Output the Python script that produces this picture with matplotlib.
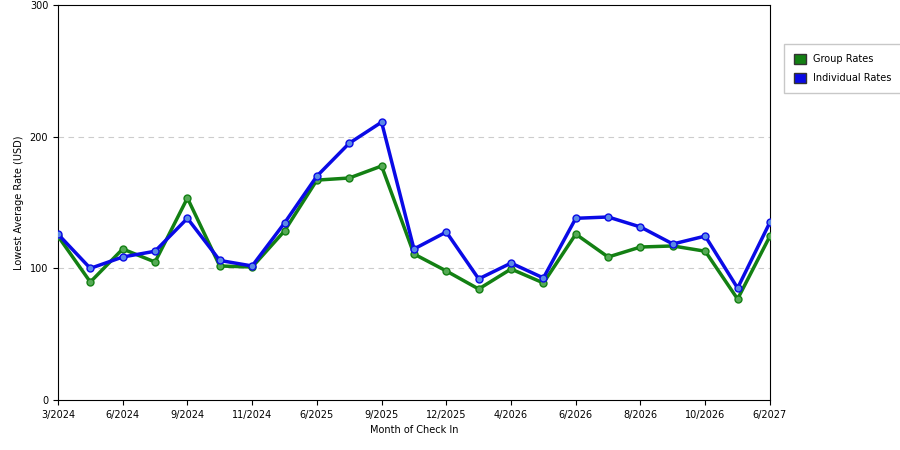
import matplotlib
matplotlib.use("Agg")
import matplotlib.pyplot as plt
from matplotlib.patches import Patch

tick_labels = ["3/2024","6/2024","9/2024","11/2024","6/2025","9/2025","12/2025","4/2026","6/2026","8/2026","10/2026","6/2027"]
group = [124.5,89.6,114.7,104.8,153.4,101.8,101,128.4,167,168.6,177.7,110.9,98,84.3,99.5,88.9,126,108.6,116.2,117,113,76.7,124.5]
indiv = [126,100,108.6,113,138,106,101.8,134.4,170,195,211,114.7,127.6,92,104,92.7,138,139,131.4,118.5,124.5,85,135]

fig = plt.figure(figsize=(9,4.5), dpi=100)
ax = fig.add_axes([0.0644,0.111,0.7911,0.878])
x = list(range(len(group)))
ax.plot(x, group, color="#138013", lw=2.5, marker="o", ms=5, mfc="#55aa55", mec="#138013", zorder=3)
ax.plot(x, indiv, color="#0a0ae6", lw=2.5, marker="o", ms=5, mfc="#5a8ae6", mec="#0a0ae6", zorder=4)
ax.set_xlim(0, len(group)-1)
ax.set_ylim(0, 300)
ax.set_xticks(range(0, len(group), 2))
ax.set_xticklabels(tick_labels, fontsize=7)
ax.set_yticks([0,100,200,300])
ax.tick_params(axis='y', labelsize=7)
for v in [100,200]:
    ax.axhline(v, color="#cccccc", lw=0.8, ls=(0,(5,4)), zorder=1)
ax.set_xlabel("Month of Check In", fontsize=7)
ax.set_ylabel("Lowest Average Rate (USD)", fontsize=7)
handles = [Patch(facecolor="#138013", edgecolor="#333333", label="Group Rates"),
           Patch(facecolor="#0a0ae6", edgecolor="#333333", label="Individual Rates")]
fig.legend(handles=handles, loc="upper left", bbox_to_anchor=(0.866,0.912), fontsize=7,
           frameon=True, fancybox=False, edgecolor="#bbbbbb", handlelength=1.2, handleheight=1.2,
           borderpad=1.0, labelspacing=0.9)
fig.savefig("out.png")
